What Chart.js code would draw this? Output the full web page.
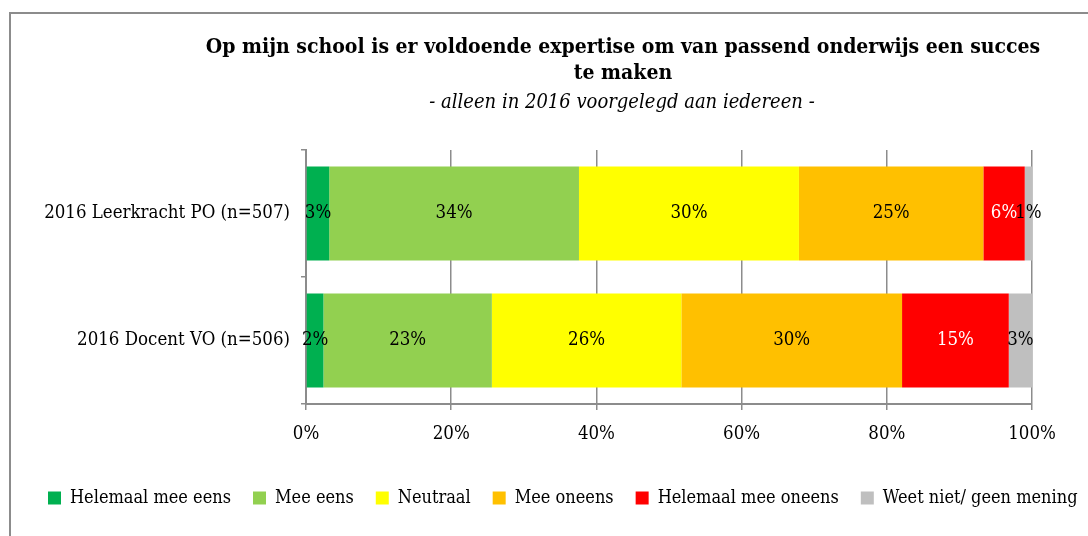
<!DOCTYPE html>
<html>
<head>
<meta charset="utf-8">
<script src="https://cdn.jsdelivr.net/npm/chart.js@4.4.1/dist/chart.umd.min.js"></script>
<style>
  body { margin: 0; background: #fff; overflow: hidden; }
  #wrap { position: relative; width: 1088px; height: 536px; overflow: hidden; }
  #frame { position: absolute; left: 9px; top: 12px; width: 1100px; height: 560px; border: 2px solid #8c8c8c; box-sizing: border-box; }
  canvas { position: absolute; left: 0; top: 0; }
</style>
</head>
<body>
<div id="wrap">
  <div id="frame"></div>
  <canvas id="myChart" width="1120" height="536"></canvas>
</div>
<script>
/* data */
const categories = ["2016 Leerkracht PO (n=507)", "2016 Docent VO (n=506)"];
const seriesNames = ["Helemaal mee eens", "Mee eens", "Neutraal", "Mee oneens", "Helemaal mee oneens", "Weet niet/ geen mening"];
const helemaalMeeEens = [3.2, 2.4];
const meeEens = [34.4, 23.2];
const neutraal = [30.3, 26.1];
const meeOneens = [25.4, 30.4];
const helemaalMeeOneens = [5.7, 14.7];
const weetNiet = [1.0, 3.2];
const xTicks = [0, 20, 40, 60, 80, 100];

const colors = ["#00b050", "#92d050", "#ffff00", "#ffc000", "#ff0000", "#bfbfbf"];
const labelColors = ["#000", "#000", "#000", "#000", "#fff", "#000"];
const allValues = [helemaalMeeEens, meeEens, neutraal, meeOneens, helemaalMeeOneens, weetNiet];

const FONT = "'DejaVu Serif Condensed', 'Liberation Serif', serif";

const ctx1 = document.getElementById("myChart").getContext("2d");

// titel bovenaan
const titlePlugin = {
  id: "titles",
  afterDraw(chart) {
    const c = chart.ctx;
    c.save();
    c.fillStyle = "#000";
    c.textAlign = "center";
    c.textBaseline = "middle";
    c.font = "bold 21px " + FONT;
    c.fillText("Op mijn school is er voldoende expertise om van passend onderwijs een succes", 623, 48);
    c.fillText("te maken", 623, 74);
    c.font = "italic 20px " + FONT;
    c.fillText("- alleen in 2016 voorgelegd aan iedereen -", 622, 103);
    c.restore();
  }
};

// percentages in de balken
const valueLabels = {
  id: "valueLabels",
  afterDatasetsDraw(chart) {
    const c = chart.ctx;
    c.save();
    c.font = "18.5px " + FONT;
    c.textAlign = "center";
    c.textBaseline = "middle";
    chart.data.datasets.forEach((ds, i) => {
      const meta = chart.getDatasetMeta(i);
      meta.data.forEach((bar, j) => {
        const x = (bar.x + bar.base) / 2;
        c.fillStyle = labelColors[i];
        c.fillText(Math.round(ds.data[j]) + "%", x, bar.y);
      });
    });
    c.restore();
  }
};

const data1 = {
  labels: categories,
  datasets: seriesNames.map((name, i) => ({
    label: name,
    data: allValues[i],
    backgroundColor: colors[i],
    borderWidth: 0,
    categoryPercentage: 1,
    barPercentage: 0.74,
  })),
};

const config1 = {
  type: "bar",
  data: data1,
  plugins: [titlePlugin, valueLabels],
  options: {
    indexAxis: "y",
    responsive: false,
    animation: false,
    layout: { padding: { top: 150, right: 0, left: 26, bottom: 19 } },
    plugins: {
      title: { display: false },
      tooltip: { enabled: false },
      legend: {
        position: "bottom",
        align: "start",
        labels: {
          boxWidth: 13,
          boxHeight: 13,
          padding: 22,
          color: "#000",
          font: { family: FONT, size: 18 },
        },
      },
    },
    scales: {
      x: {
        stacked: true,
        min: 0,
        max: 100,
        afterBuildTicks: (s) => { s.ticks = xTicks.map((v) => ({ value: v })); },
        afterFit: (s) => { s.height = 63; },
        grid: { color: "#8c8c8c", lineWidth: 1.5, tickLength: 6 },
        border: { color: "#8c8c8c", width: 2 },
        ticks: {
          color: "#000",
          padding: 13,
          maxRotation: 0,
          font: { family: FONT, size: 18.5 },
          callback: (v) => v + "%",
        },
      },
      y: {
        stacked: true,
        afterFit: (s) => { s.width = 280; },
        grid: { drawOnChartArea: false, color: "#8c8c8c", lineWidth: 1.5, tickLength: 5 },
        border: { color: "#8c8c8c", width: 2 },
        ticks: {
          color: "#000",
          padding: 11,
          font: { family: FONT, size: 18.5 },
        },
      },
      // lege ruimte rechts van het plotvlak
      yRight: {
        type: "category",
        position: "right",
        afterFit: (s) => { s.width = 88; },
        grid: { display: false },
        border: { display: false },
        ticks: { display: false },
      },
    },
  },
};

const myChart1 = new Chart(ctx1, config1);
</script>
</body>
</html>
